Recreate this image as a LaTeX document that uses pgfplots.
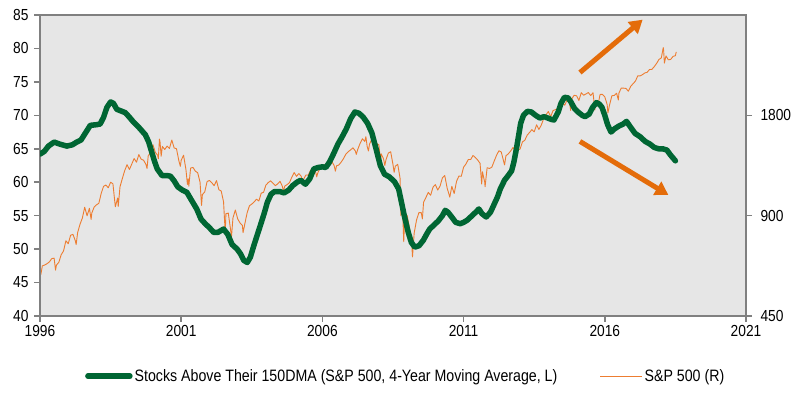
\documentclass[border=0pt]{standalone}
\usepackage{fontspec}
\setmainfont{Liberation Sans}[FakeStretch=0.86]
\usepackage{pgfplots}
\pgfplotsset{compat=1.18}
\usetikzlibrary{arrows.meta}
\definecolor{grn}{RGB}{0,102,51}
\definecolor{org}{RGB}{237,125,49}
\definecolor{arr}{RGB}{228,108,10}
\definecolor{bg}{RGB}{230,230,230}
\definecolor{axg}{RGB}{128,128,128}
\begin{document}
\begin{tikzpicture}
\useasboundingbox (0,0) rectangle (795pt,393pt);
% right (log) axis with S&P 500
\begin{axis}[
  at={(40pt,77pt)}, anchor=south west,
  scale only axis, width=706pt, height=301pt,
  xmin=1996, xmax=2021,
  ymode=log, log basis y=2, ymin=450, ymax=3600,
  xtick=\empty, ytick pos=right, yminorticks=false,
  ytick={450,900,1800}, yticklabels={450,900,1800},
  tick align=outside, major tick length=6pt,
  axis line style={axg, line width=1.5pt},
  every tick/.style={axg, line width=1.5pt},
  axis background/.style={fill=bg},
  /pgf/number format/assume math mode=true,
  tick label style={font=\fontsize{16}{18}\selectfont, text=black},
  yticklabel style={xshift=5pt},
]
\addplot[org, line width=0.9pt, line join=round] table {
1996.000 616
1996.030 599
1996.083 636
1996.167 640
1996.250 646
1996.333 654
1996.417 669
1996.500 671
1996.550 618
1996.583 640
1996.667 652
1996.750 687
1996.833 705
1996.917 757
1997.000 741
1997.083 786
1997.167 791
1997.250 757
1997.280 737
1997.333 801
1997.417 848
1997.500 885
1997.583 954
1997.667 899
1997.750 947
1997.810 877
1997.833 915
1997.917 955
1998.000 970
1998.083 980
1998.167 1049
1998.250 1102
1998.333 1112
1998.417 1091
1998.500 1134
1998.583 1121
1998.667 957
1998.750 1017
1998.770 959
1998.833 1099
1998.917 1164
1999.000 1229
1999.083 1280
1999.167 1238
1999.250 1286
1999.333 1335
1999.417 1302
1999.500 1373
1999.583 1329
1999.667 1320
1999.750 1283
1999.790 1247
1999.833 1363
1999.917 1389
2000.000 1469
2000.083 1394
2000.167 1366
2000.190 1333
2000.230 1527
2000.250 1499
2000.290 1357
2000.333 1452
2000.417 1421
2000.500 1455
2000.583 1431
2000.667 1518
2000.750 1437
2000.833 1429
2000.917 1315
2000.970 1265
2001.000 1320
2001.083 1366
2001.167 1240
2001.220 1117
2001.250 1160
2001.270 1103
2001.333 1250
2001.417 1256
2001.500 1224
2001.583 1211
2001.667 1134
2001.720 966
2001.750 1041
2001.833 1060
2001.917 1139
2002.000 1148
2002.083 1130
2002.167 1107
2002.250 1147
2002.333 1077
2002.417 1067
2002.500 990
2002.560 797
2002.583 912
2002.667 916
2002.750 815
2002.780 777
2002.833 886
2002.917 936
2003.000 880
2003.083 856
2003.167 841
2003.190 800
2003.250 848
2003.333 917
2003.417 964
2003.500 975
2003.583 990
2003.667 1008
2003.750 996
2003.833 1051
2003.917 1058
2004.000 1112
2004.083 1131
2004.167 1145
2004.250 1126
2004.333 1107
2004.417 1121
2004.500 1141
2004.583 1102
2004.620 1064
2004.667 1104
2004.750 1115
2004.833 1130
2004.917 1174
2005.000 1212
2005.083 1181
2005.167 1204
2005.250 1181
2005.300 1138
2005.333 1157
2005.417 1192
2005.500 1191
2005.583 1234
2005.667 1220
2005.750 1229
2005.800 1177
2005.833 1207
2005.917 1250
2006.000 1248
2006.083 1280
2006.167 1281
2006.250 1295
2006.333 1311
2006.417 1270
2006.460 1224
2006.500 1270
2006.583 1277
2006.667 1304
2006.750 1336
2006.833 1378
2006.917 1401
2007.000 1418
2007.083 1438
2007.167 1407
2007.200 1374
2007.250 1421
2007.333 1482
2007.417 1531
2007.500 1503
2007.540 1553
2007.583 1455
2007.630 1407
2007.667 1474
2007.750 1527
2007.780 1565
2007.833 1549
2007.917 1481
2008.000 1468
2008.060 1310
2008.083 1379
2008.167 1331
2008.210 1273
2008.250 1323
2008.333 1386
2008.417 1400
2008.500 1280
2008.540 1214
2008.583 1267
2008.667 1283
2008.750 1166
2008.780 900
2008.833 969
2008.880 752
2008.917 896
2009.000 903
2009.083 826
2009.167 735
2009.190 677
2009.250 798
2009.333 873
2009.417 919
2009.500 919
2009.540 880
2009.583 988
2009.667 1021
2009.750 1057
2009.833 1036
2009.917 1096
2010.000 1115
2010.083 1074
2010.167 1104
2010.250 1169
2010.333 1187
2010.417 1089
2010.500 1031
2010.510 1022
2010.583 1102
2010.667 1049
2010.750 1141
2010.833 1183
2010.917 1181
2011.000 1258
2011.083 1286
2011.167 1327
2011.250 1326
2011.333 1364
2011.417 1345
2011.500 1321
2011.583 1292
2011.640 1120
2011.667 1219
2011.750 1131
2011.760 1099
2011.833 1253
2011.917 1247
2012.000 1258
2012.083 1312
2012.167 1366
2012.250 1409
2012.333 1398
2012.417 1310
2012.450 1278
2012.500 1362
2012.583 1379
2012.667 1407
2012.750 1441
2012.833 1412
2012.917 1416
2013.000 1426
2013.083 1498
2013.167 1515
2013.250 1569
2013.333 1598
2013.417 1631
2013.500 1606
2013.583 1686
2013.667 1633
2013.750 1682
2013.833 1757
2013.917 1806
2014.000 1848
2014.083 1783
2014.167 1860
2014.250 1872
2014.333 1884
2014.417 1924
2014.500 1960
2014.583 1931
2014.667 2003
2014.750 1972
2014.790 1862
2014.833 2018
2014.917 2068
2015.000 2059
2015.083 1995
2015.167 2105
2015.250 2068
2015.333 2086
2015.417 2107
2015.500 2063
2015.583 2104
2015.650 1867
2015.667 1972
2015.750 1920
2015.833 2079
2015.917 2080
2016.000 2044
2016.083 1940
2016.110 1829
2016.167 1932
2016.250 2060
2016.333 2065
2016.417 2097
2016.480 2001
2016.500 2099
2016.583 2174
2016.667 2171
2016.750 2168
2016.833 2126
2016.917 2199
2017.000 2239
2017.083 2279
2017.167 2364
2017.250 2363
2017.333 2384
2017.417 2412
2017.500 2423
2017.583 2470
2017.667 2472
2017.750 2519
2017.833 2575
2017.917 2648
2018.000 2674
2018.070 2873
2018.083 2824
2018.110 2581
2018.167 2714
2018.250 2641
2018.333 2648
2018.417 2705
2018.500 2718
2018.530 2790
};
\end{axis}
% left axis with breadth indicator
\begin{axis}[
  at={(40pt,77pt)}, anchor=south west,
  scale only axis, width=706pt, height=301pt,
  xmin=1996, xmax=2021, ymin=40, ymax=85,
  xtick={1996,2001,2006,2011,2016,2021},
  xticklabels={1996,2001,2006,2011,2016,2021},
  ytick={40,45,...,85},
  xtick pos=bottom, ytick pos=left,
  tick align=outside, major tick length=6pt,
  axis line style={axg, line width=1.5pt},
  every tick/.style={axg, line width=1.5pt},
  /pgf/number format/assume math mode=true,
  tick label style={font=\fontsize{16}{18}\selectfont, text=black},
  yticklabel style={xshift=-2pt},
  legend columns=2,
  legend style={at={(0.518,-0.2)}, anchor=center, draw=none, fill=none,
    font=\fontsize{16.5}{19}\selectfont,
    /tikz/every even column/.append style={column sep=40pt}},
  legend image code/.code={\draw[#1] (0pt,0pt) -- (42pt,0pt);},
]
\addplot[grn, line width=5.5pt, line join=round, line cap=round] table {
1996.00 64.2
1996.15 64.6
1996.30 65.4
1996.50 66.0
1996.70 65.7
1996.95 65.4
1997.15 65.6
1997.30 66.0
1997.45 66.3
1997.60 67.3
1997.78 68.5
1998.00 68.6
1998.13 68.7
1998.25 69.7
1998.37 71.2
1998.50 72.0
1998.60 71.8
1998.72 70.9
1998.90 70.6
1999.02 70.4
1999.15 69.8
1999.31 69.0
1999.50 68.2
1999.73 67.1
1999.85 66.0
1999.95 64.6
2000.05 63.2
2000.15 62.0
2000.32 61.0
2000.50 61.0
2000.62 60.9
2000.75 60.2
2000.88 59.3
2001.05 58.8
2001.20 58.5
2001.38 57.2
2001.55 56.0
2001.70 54.5
2001.85 53.8
2002.00 53.2
2002.15 52.5
2002.30 52.5
2002.50 53.0
2002.65 52.2
2002.80 50.7
2002.98 50.0
2003.10 49.3
2003.22 48.3
2003.34 48.0
2003.45 48.8
2003.57 50.5
2003.70 52.2
2003.80 53.5
2003.95 55.5
2004.05 57.0
2004.18 58.2
2004.30 58.6
2004.50 58.6
2004.64 58.4
2004.80 58.8
2004.95 59.5
2005.10 60.0
2005.23 60.3
2005.40 59.7
2005.55 60.5
2005.70 62.0
2005.85 62.2
2006.00 62.3
2006.12 62.2
2006.25 63.0
2006.40 64.3
2006.55 65.7
2006.70 66.8
2006.85 68.0
2007.00 69.5
2007.15 70.5
2007.30 70.3
2007.45 69.7
2007.60 68.8
2007.75 67.4
2007.90 65.0
2008.05 62.5
2008.20 61.2
2008.37 60.8
2008.55 60.1
2008.70 59.0
2008.80 57.0
2008.90 55.0
2009.04 52.5
2009.15 51.0
2009.27 50.3
2009.42 50.5
2009.57 51.3
2009.70 52.3
2009.80 53.0
2009.95 53.6
2010.10 54.2
2010.25 55.0
2010.35 55.8
2010.45 55.5
2010.58 54.8
2010.72 54.0
2010.88 53.8
2011.00 54.0
2011.12 54.3
2011.30 55.0
2011.45 55.6
2011.54 56.0
2011.65 55.3
2011.80 54.8
2011.95 55.5
2012.07 56.6
2012.20 57.8
2012.30 59.0
2012.45 60.3
2012.58 61.0
2012.70 61.7
2012.78 63.0
2012.87 65.0
2012.95 67.0
2013.02 68.8
2013.12 70.0
2013.26 70.6
2013.40 70.5
2013.55 70.0
2013.70 69.6
2013.85 69.8
2013.98 69.6
2014.10 69.4
2014.20 69.3
2014.35 70.5
2014.45 71.8
2014.57 72.7
2014.70 72.6
2014.80 72.0
2014.93 71.0
2015.05 70.5
2015.20 70.0
2015.30 69.8
2015.45 70.2
2015.57 71.2
2015.70 71.9
2015.80 71.7
2015.90 71.2
2016.00 70.0
2016.10 68.6
2016.22 67.5
2016.35 68.0
2016.50 68.4
2016.65 68.7
2016.77 69.1
2016.90 68.3
2017.07 67.3
2017.25 66.8
2017.43 66.1
2017.60 65.7
2017.75 65.2
2017.90 65.0
2018.05 65.0
2018.20 64.8
2018.32 64.1
2018.42 63.6
2018.50 63.2
};
\addlegendentry{Stocks Above Their 150DMA (S\&P 500, 4-Year Moving Average, L)}
\addlegendimage{org, line width=1.2pt}
\addlegendentry{S\&P 500 (R)}
\draw[arr, line width=5pt, -{Triangle[length=13pt,width=15pt]}]
  (axis cs:2015.12,76.4) -- (axis cs:2017.34,84.3);
\draw[arr, line width=5pt, -{Triangle[length=13pt,width=15pt]}]
  (axis cs:2015.12,66.1) -- (axis cs:2018.25,58.1);
\end{axis}
\end{tikzpicture}
\end{document}
